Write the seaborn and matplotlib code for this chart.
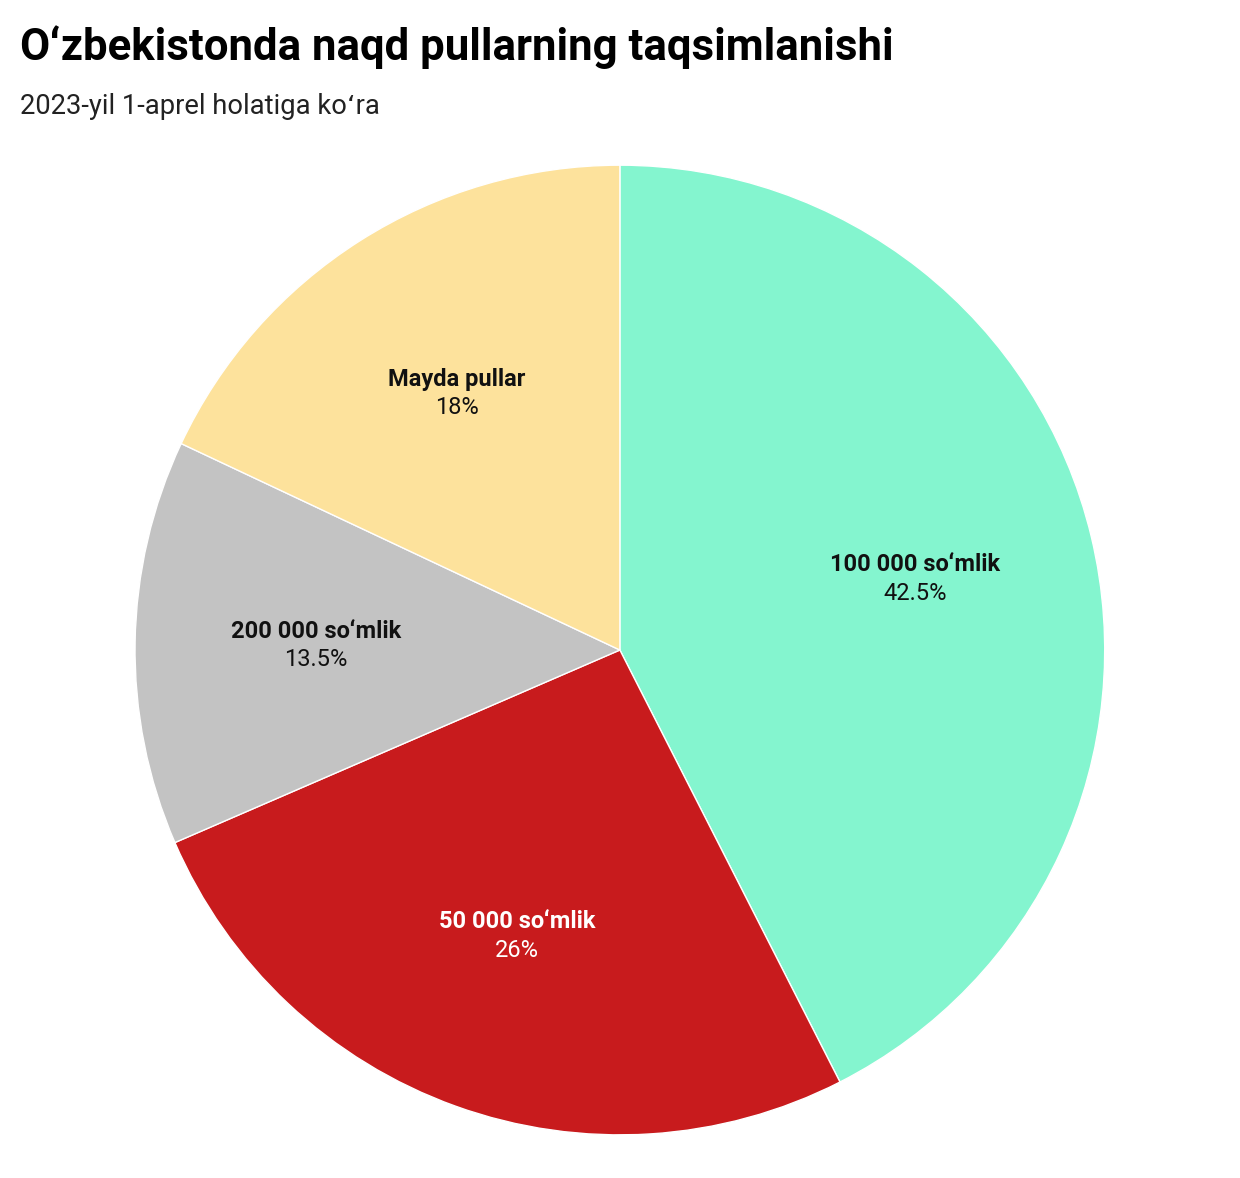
import numpy as np
import seaborn as sns
import matplotlib.pyplot as plt
plt.switch_backend('Agg')

TITLE = "O\u02bbzbekistonda naqd pullarning taqsimlanishi"
SUBTITLE = "2023-yil 1-aprel holatiga ko\u02bbra"

categories = ["100 000 so\u02bbmlik", "50 000 so\u02bbmlik", "200 000 so\u02bbmlik", "Mayda pullar"]
shares = [42.5, 26, 13.5, 18]
share_labels = ["42.5%", "26%", "13.5%", "18%"]
colors = ["#84F5CF", "#C81B1D", "#C3C3C3", "#FDE29C"]
text_colors = ["#111111", "#FFFFFF", "#111111", "#111111"]

sns.set_theme(style="white")
plt.rcParams['font.family'] = ['Roboto', 'DejaVu Sans']

fig = plt.figure(figsize=(12.4, 11.78), dpi=100)
ax = fig.add_axes([0.1089, 0.0365, 0.782, 0.8234])

wedges, _ = ax.pie(shares, colors=colors, startangle=90, counterclock=False,
                   wedgeprops=dict(edgecolor="white", linewidth=1))
ax.set_xlim(-1, 1)
ax.set_ylim(-1, 1)
ax.set_aspect("equal")

total = sum(shares)
cum = 0
for name, val, pct, tc in zip(categories, shares, share_labels, text_colors):
    mid = (cum + val / 2) / total
    cum += val
    ang = np.deg2rad(90 - mid * 360)
    x, y = 0.627 * np.cos(ang), 0.627 * np.sin(ang)
    ax.text(x, y + 0.029, name, ha="center", va="center", fontsize=17,
            fontweight="bold", color=tc)
    ax.text(x, y - 0.029, pct, ha="center", va="center", fontsize=17, color=tc)

fig.text(20 / 1240, 1 - 47 / 1178, TITLE, ha="left", va="center",
         fontsize=31.5, fontweight="bold", color="#000000")
fig.text(20 / 1240, 1 - 106 / 1178, SUBTITLE, ha="left", va="center",
         fontsize=19.7, color="#222222")

plt.savefig("out.png", dpi=100)
plt.close()
